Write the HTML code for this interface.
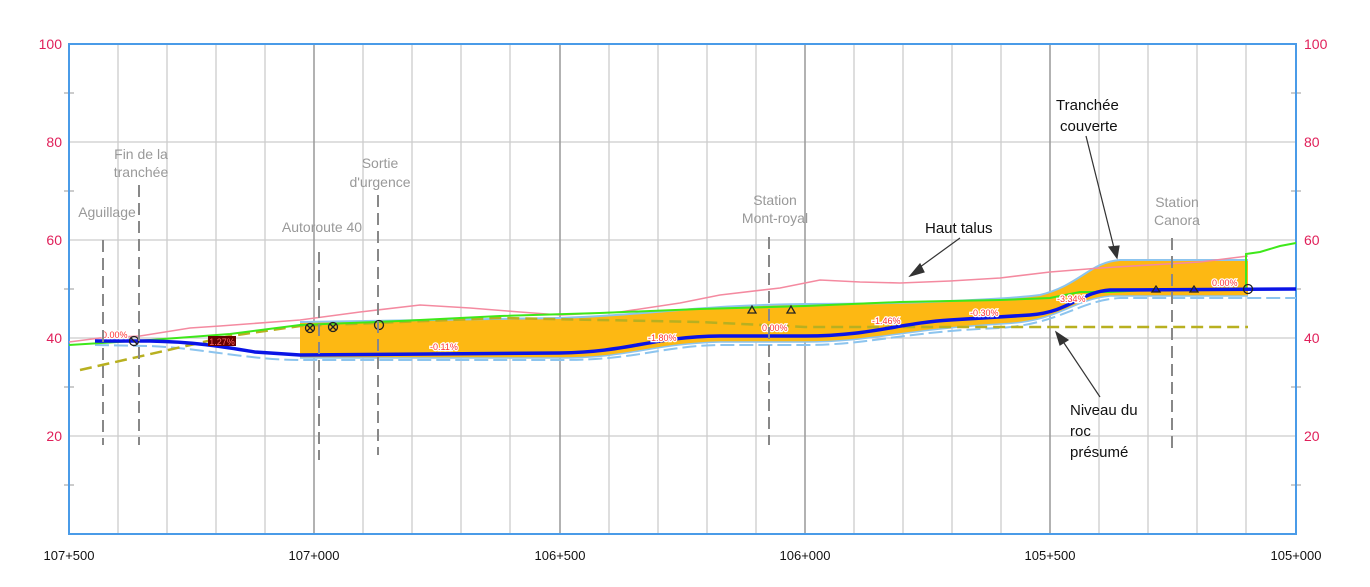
<!DOCTYPE html>
<html><head><meta charset="utf-8"><style>
body{margin:0;background:#fff;}
svg text{font-family:"Liberation Sans",sans-serif;}
</style></head><body>
<svg width="1370" height="582" xmlns="http://www.w3.org/2000/svg">
<rect width="1370" height="582" fill="#fff"/>
<g stroke="#ccc" stroke-width="1.3">
<line x1="118" y1="44" x2="118" y2="534"/><line x1="167" y1="44" x2="167" y2="534"/><line x1="216" y1="44" x2="216" y2="534"/><line x1="265" y1="44" x2="265" y2="534"/>
<line x1="363" y1="44" x2="363" y2="534"/><line x1="412" y1="44" x2="412" y2="534"/><line x1="461" y1="44" x2="461" y2="534"/><line x1="510" y1="44" x2="510" y2="534"/>
<line x1="609" y1="44" x2="609" y2="534"/><line x1="658" y1="44" x2="658" y2="534"/><line x1="707" y1="44" x2="707" y2="534"/><line x1="756" y1="44" x2="756" y2="534"/>
<line x1="854" y1="44" x2="854" y2="534"/><line x1="903" y1="44" x2="903" y2="534"/><line x1="952" y1="44" x2="952" y2="534"/><line x1="1001" y1="44" x2="1001" y2="534"/>
<line x1="1099" y1="44" x2="1099" y2="534"/><line x1="1148" y1="44" x2="1148" y2="534"/><line x1="1197" y1="44" x2="1197" y2="534"/><line x1="1246" y1="44" x2="1246" y2="534"/>
<line x1="69" y1="142" x2="1296" y2="142"/><line x1="69" y1="240" x2="1296" y2="240"/><line x1="69" y1="338" x2="1296" y2="338"/><line x1="69" y1="436" x2="1296" y2="436"/>
</g>
<g stroke="#999" stroke-width="1.5">
<line x1="314" y1="44" x2="314" y2="534"/><line x1="560" y1="44" x2="560" y2="534"/><line x1="805" y1="44" x2="805" y2="534"/><line x1="1050" y1="44" x2="1050" y2="534"/>
</g>
<g stroke="#999" stroke-width="1">
<line x1="64" y1="93" x2="74" y2="93"/><line x1="64" y1="191" x2="74" y2="191"/><line x1="64" y1="289" x2="74" y2="289"/><line x1="64" y1="387" x2="74" y2="387"/><line x1="64" y1="485" x2="74" y2="485"/>
<line x1="1291" y1="93" x2="1301" y2="93"/><line x1="1291" y1="191" x2="1301" y2="191"/><line x1="1291" y1="289" x2="1301" y2="289"/><line x1="1291" y1="387" x2="1301" y2="387"/><line x1="1291" y1="485" x2="1301" y2="485"/>
</g>
<rect x="69" y="44" width="1227" height="490" fill="none" stroke="#4a9be8" stroke-width="2"/>
<path d="M300,322 L560,318 C650,315 700,305 805,304 C900,304 1000,300 1040,295 C1080,285 1090,262 1120,260 L1248,260 L1248,296 L1110,296 C1070,300 1060,322 1000,324 C900,330 870,342 805,342 L720,342 C650,344 630,358 560,358 L300,358 Z" fill="#fdb813"/>
<path d="M300,322 L560,318 C650,315 700,305 805,304 C900,304 1000,300 1040,295 C1080,285 1090,262 1120,260 L1248,260" fill="none" stroke="#8cc4ee" stroke-width="2"/>
<path d="M1248,296 L1110,296 C1070,300 1060,322 1000,324 C900,330 870,342 805,342 L720,342 C650,344 630,358 560,358 L300,358" fill="none" stroke="#8cc4ee" stroke-width="1.5"/>
<path d="M95,345 L150,346 C200,348 250,360 300,360 L560,360 C640,360 660,346 720,345 L805,345 C870,345 900,332 1000,328 C1060,324 1080,300 1120,298 L1296,298" fill="none" stroke="#8cc4ee" stroke-width="2" stroke-dasharray="14,5"/>
<path d="M80,370 L230,336 L300,326 L500,318 L700,322 L805,327 L1248,327" fill="none" stroke="#b8b020" stroke-width="2.5" stroke-dasharray="12,6"/>
<path d="M69,342 L100,338 L140,336 L190,328 L220,326 L300,320 L360,312 L420,305 L470,308 L520,312 L560,315 L620,312 L680,303 L720,295 L780,288 L820,280 L860,282 L900,283 L950,281 L1000,278 L1050,272 L1100,268 L1150,265 L1200,262 L1248,256" fill="none" stroke="#f48aa0" stroke-width="1.6"/>
<path d="M69,345 L150,340 L230,334 L300,325 L400,321 L500,316 L600,313 L700,309 L805,306 L900,302 L1000,300 L1050,298 L1080,292 L1110,292 L1150,290 L1246,290 L1246,254 L1260,252 L1280,246 L1296,243" fill="none" stroke="#3ee81a" stroke-width="2"/>
<path d="M95,341 L150,341 C200,342 230,348 255,352 L300,355 L560,353 C630,352 650,337 720,336 L805,336 C870,336 900,323 950,320 L1030,315 C1070,312 1080,292 1110,290 L1296,289" fill="none" stroke="#0a14e6" stroke-width="3.5"/>
<rect x="208" y="336" width="28" height="10" fill="#600"/>
<text x="222" y="345" font-size="9" fill="#f66" text-anchor="middle">1.27%</text>
<g font-size="9" fill="#f33" stroke="#fff" stroke-width="2.5" paint-order="stroke">
<text x="102" y="338">0.00%</text><text x="430" y="350">-0.11%</text><text x="648" y="341">-1.80%</text>
<text x="762" y="331">0.00%</text><text x="872" y="324">-1.46%</text><text x="970" y="316">-0.30%</text>
<text x="1057" y="302">-3.34%</text><text x="1212" y="286">0.00%</text>
</g>
<g fill="none" stroke="#222" stroke-width="1.3">
<circle cx="134" cy="341" r="4.5"/><circle cx="310" cy="328" r="4.5"/><circle cx="333" cy="327" r="4.5"/><circle cx="379" cy="325" r="4.5"/><circle cx="1248" cy="289" r="4.5"/>
<path d="M307,325 L313,331 M313,325 L307,331 M330,324 L336,330 M336,324 L330,330 M131,338 L137,344"/>
<path d="M748,313 L752,306 L756,313 Z M787,313 L791,306 L795,313 Z M1152,292 L1156,286 L1160,292 Z M1190,292 L1194,286 L1198,292 Z"/>
</g>
<g stroke="#888" stroke-width="2" stroke-dasharray="12,6">
<line x1="103" y1="240" x2="103" y2="445"/><line x1="139" y1="185" x2="139" y2="445"/><line x1="319" y1="252" x2="319" y2="460"/>
<line x1="378" y1="195" x2="378" y2="455"/><line x1="769" y1="237" x2="769" y2="445"/><line x1="1172" y1="238" x2="1172" y2="448"/>
</g>
<g font-size="14" fill="#999" text-anchor="middle">
<text x="107" y="217">Aguillage</text>
<text x="141" y="159">Fin de la</text><text x="141" y="177">tranchée</text>
<text x="322" y="232">Autoroute 40</text>
<text x="380" y="168">Sortie</text><text x="380" y="187">d'urgence</text>
<text x="775" y="205">Station</text><text x="775" y="223">Mont-royal</text>
<text x="1177" y="207">Station</text><text x="1177" y="225">Canora</text>
</g>
<g font-size="15" fill="#111">
<text x="925" y="233">Haut talus</text>
<text x="1056" y="110">Tranchée</text><text x="1060" y="131">couverte</text>
<text x="1070" y="415">Niveau du</text><text x="1070" y="436">roc</text><text x="1070" y="457">présumé</text>
</g>
<g stroke="#333" stroke-width="1.2" fill="#333">
<line x1="960" y1="238" x2="916" y2="270"/><path d="M910,276 L920,264 L924,272 Z"/>
<line x1="1086" y1="136" x2="1114" y2="248"/><path d="M1117,258 L1109,247 L1119,246 Z"/>
<line x1="1100" y1="397" x2="1062" y2="340"/><path d="M1056,332 L1068,340 L1060,345 Z"/>
</g>
<g font-size="14" fill="#e0205a">
<text x="62" y="49" text-anchor="end">100</text><text x="62" y="147" text-anchor="end">80</text><text x="62" y="245" text-anchor="end">60</text><text x="62" y="343" text-anchor="end">40</text><text x="62" y="441" text-anchor="end">20</text>
<text x="1304" y="49">100</text><text x="1304" y="147">80</text><text x="1304" y="245">60</text><text x="1304" y="343">40</text><text x="1304" y="441">20</text>
</g>
<g font-size="13" fill="#111" text-anchor="middle">
<text x="69" y="560">107+500</text><text x="314" y="560">107+000</text><text x="560" y="560">106+500</text><text x="805" y="560">106+000</text><text x="1050" y="560">105+500</text><text x="1296" y="560">105+000</text>
</g>
</svg>
</body></html>
